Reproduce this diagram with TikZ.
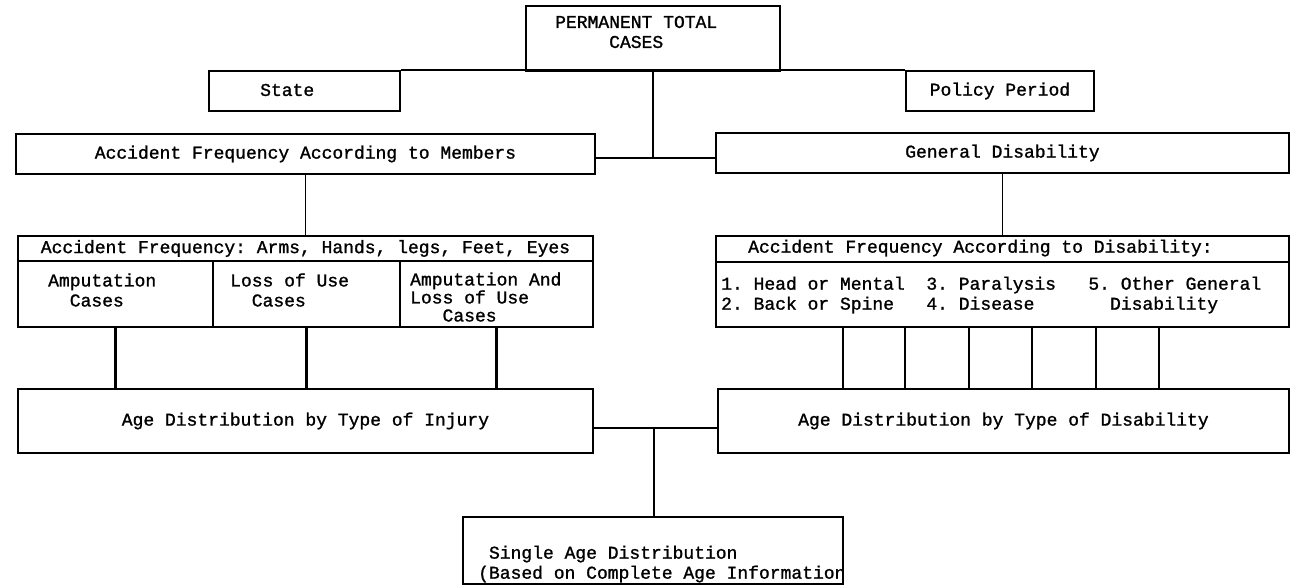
\documentclass[tikz,border=0pt]{standalone}
\usepackage{fontspec}
\newfontfamily\typewriter[FakeBold=1.2]{Liberation Mono}
\usepackage{tikz}

\tikzset{
  box/.style={draw, line width=1.9pt, inner sep=0pt, anchor=north west},
  txt/.style={inner sep=0pt, align=left, anchor=west},
  link/.style={line width=2.2pt},
  feed/.style={line width=1.1pt}
}

\begin{document}
\begin{tikzpicture}[x=1pt, y=-1pt, font=\typewriter\fontsize{18}{20}\selectfont\frenchspacing]
\fill[white] (0,0) rectangle (1294,587);

\node[box, minimum width=254pt, minimum height=65pt] (total) at (525,5) {};
\node[txt] (totaltxt) at (555,32) {PERMANENT TOTAL\\~~~~~CASES};
\node[box, minimum width=191pt, minimum height=40pt] (state) at (208,70) {};
\node[txt] (statetxt) at (260,90) {State};
\node[box, minimum width=188pt, minimum height=40pt] (policy) at (905,70) {Policy Period};
\node[box, minimum width=579pt, minimum height=40pt] (members) at (15,133) {Accident Frequency According to Members};
\node[box, minimum width=573pt, minimum height=40pt] (general) at (715,132) {General Disability};

\node[box, minimum width=575pt, minimum height=25pt] (armshead) at (17,235) {Accident Frequency: Arms, Hands, legs, Feet, Eyes};
\node[box, minimum width=195pt, minimum height=66pt] (amput) at (17,260) {};
\node[box, minimum width=187pt, minimum height=66pt] (lossuse) at (212,260) {};
\node[box, minimum width=193pt, minimum height=66pt] (ampuse) at (399,260) {};
\node[txt] (amputtxt) at (48,290) {Amputation\\~~Cases};
\node[txt] (lossusetxt) at (230,290) {Loss of Use\\~~Cases};
\node[txt, font=\typewriter\fontsize{18}{18}\selectfont] (ampusetxt) at (410,297) {Amputation And\\Loss of Use\\~~~Cases};

\node[box, minimum width=573pt, minimum height=26pt] (dishead) at (715,235) {};
\node[txt] (disheadtxt) at (748,248) {Accident Frequency According to Disability:};
\node[box, minimum width=573pt, minimum height=65pt] (dislist) at (715,261) {};
\node[txt] (dislisttxt) at (721,295) {1. Head or Mental~~3. Paralysis~~~5. Other General\\2. Back or Spine~~~4. Disease~~~~~~~Disability};

\node[box, minimum width=575pt, minimum height=64pt] (injury) at (17,388) {Age Distribution by Type of Injury};
\node[box, minimum width=571pt, minimum height=64pt] (distype) at (717,388) {Age Distribution by Type of Disability};

\node[box, minimum width=380pt, minimum height=67pt] (single) at (462,516) {};
\node[txt] (singletxt) at (478,564) {~Single Age Distribution\\(Based on Complete Age Information};

\coordinate (midtop) at (653,158);
\coordinate (midbot) at (654,428);

\draw[link] (state.north east) -- (policy.north west);
\draw[link] (total.south -| midtop) -- (midtop);
\draw[link] (members.east |- midtop) -- (general.west |- midtop);
\draw[feed] (members.south) -- (armshead.north);
\draw[feed] (general.south) -- (dishead.north);

\foreach \c in {amput, lossuse, ampuse}
  \draw[link] (\c.south) -- (\c.south |- injury.north);
\foreach \x in {843,905,969,1032,1096,1159}
  \draw[link] (\x,0 |- dislist.south) -- (\x,0 |- distype.north);

\draw[link] (injury.east |- midbot) -- (distype.west |- midbot);
\draw[link] (midbot) -- (midbot |- single.north);

\end{tikzpicture}
\end{document}
